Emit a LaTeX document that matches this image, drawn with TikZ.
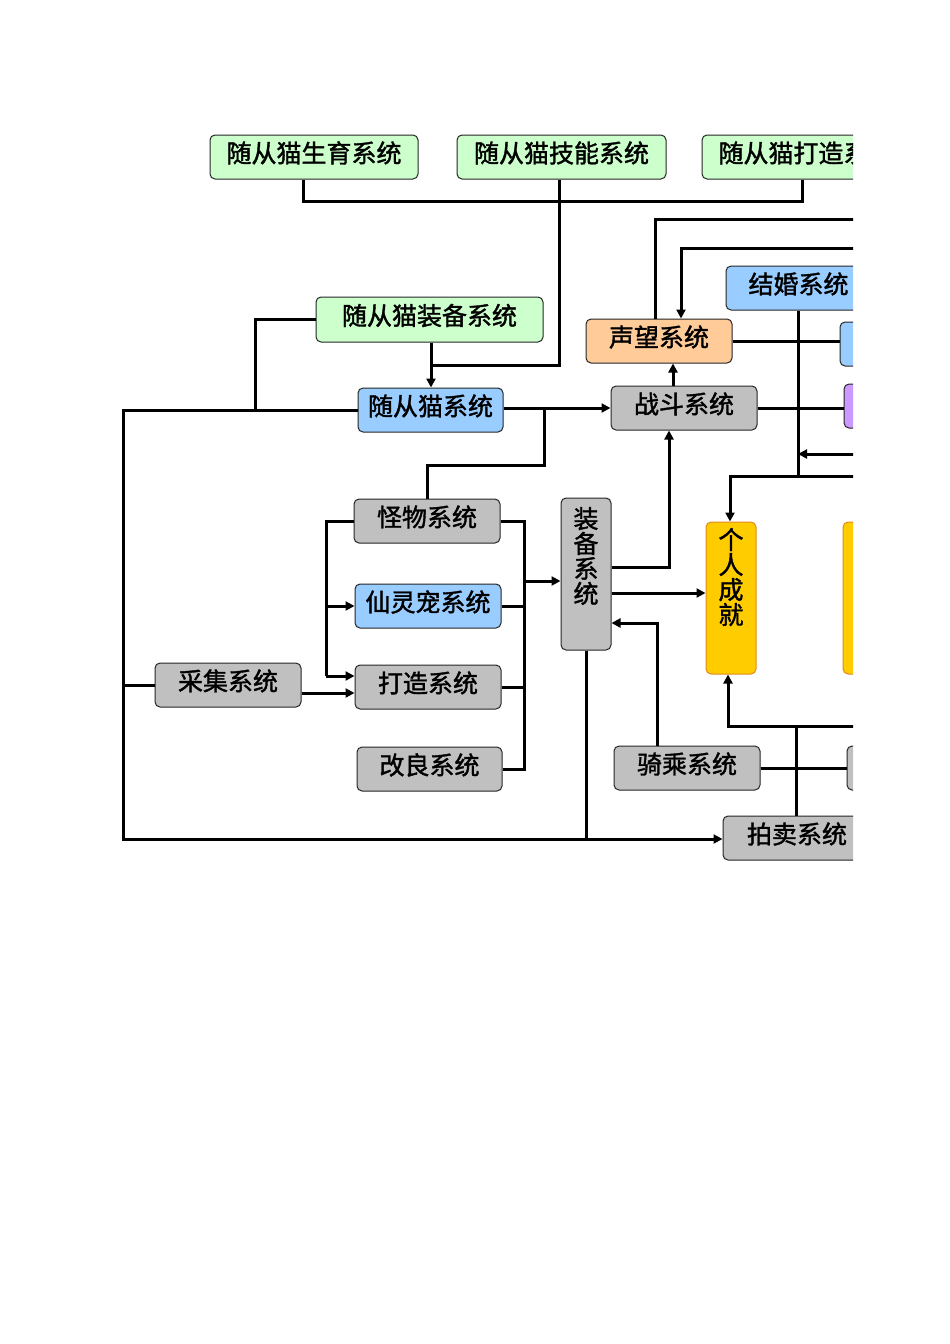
\documentclass[tikz,border=0pt]{standalone}
\usepackage{fontspec}
\newfontfamily\cjk[FakeBold=1.5]{Noto Sans CJK SC}
\usetikzlibrary{arrows.meta}
\definecolor{cgreen}{HTML}{CCFFCC}
\definecolor{cblue}{HTML}{99CCFF}
\definecolor{corange}{HTML}{FFCC99}
\definecolor{cgray}{HTML}{C0C0C0}
\definecolor{cpurple}{HTML}{CC99FF}
\definecolor{cyellow}{HTML}{FFCC00}
\definecolor{cyborder}{HTML}{E08A1E}
\tikzset{
  box/.style={draw=black!85, line width=1pt, rounded corners=5pt, inner sep=0pt,
    minimum height=44pt, minimum width=146pt, text height=19pt, text depth=8pt,
    font=\cjk\fontsize{25}{25}\selectfont},
  gbox/.style={box, fill=cgreen},
  bbox/.style={box, fill=cblue},
  obox/.style={box, fill=corange},
  graybox/.style={box, fill=cgray},
  pbox/.style={box, fill=cpurple},
  vbox/.style={box, minimum width=50pt, minimum height=152pt, text height=, text depth=},
  ybox/.style={vbox, fill=cyellow, draw=cyborder},
  ln/.style={line width=3pt, line join=miter},
  arr/.style={ln, -{Triangle[length=9pt,width=9pt]}}
}
\newcommand{\vtext}[2]{\parbox[t][142pt][t]{27pt}{\vspace*{#1}\centering\fontsize{25}{25}\selectfont #2}}
\begin{document}
\begin{tikzpicture}[x=1pt,y=-1pt]
\useasboundingbox (0,0) rectangle (950,1344);
\fill[white] (0,0) rectangle (950,1344);
\begin{scope}
\clip (0,0) rectangle (853,1344);
% nodes
\node[gbox, minimum width=208pt] (shengyu) at (314,157) {随从猫生育系统};
\node[gbox, minimum width=209pt] (jineng) at (561.5,157) {随从猫技能系统};
\node[gbox, minimum width=208pt] (dazaocat) at (806,157) {随从猫打造系统};
\node[gbox, minimum width=227pt, minimum height=45pt] (zbcat) at (429.5,319.5) {随从猫装备系统};
\node[bbox, minimum width=145pt] (cat) at (430.5,410) {随从猫系统};
\node[obox] (shengwang) at (659,341) {声望系统};
\node[graybox] (zhandou) at (684,408) {战斗系统};
\node[bbox, minimum width=145pt] (jiehun) at (798.5,288) {结婚系统};
\node[bbox] (blueR) at (913,344) {};
\node[pbox] (purple) at (917,406) {};
\node[graybox] (guaiwu) at (427,521) {怪物系统};
\node[bbox] (xianling) at (428,606) {仙灵宠系统};
\node[graybox] (dazao) at (428,687) {打造系统};
\node[graybox, minimum width=145pt] (gailiang) at (429.5,769) {改良系统};
\node[graybox] (caiji) at (228,685) {采集系统};
\node[vbox, fill=cgray] (zhuangbei) at (586,574) {\vtext{4pt}{装\\备\\系\\统}};
\node[ybox] (chengjiu) at (731,598) {\vtext{1pt}{个\\人\\成\\就}};
\node[ybox] (yellowR) at (868,598) {};
\node[graybox] (qicheng) at (687,768) {骑乘系统};
\node[graybox] (grayR) at (920,768) {};
\node[graybox, minimum width=148pt] (paimai) at (797,838) {拍卖系统};
% connectors
\draw[ln] (303,0 |- shengyu.south) -- (303,201) -| (802,0 |- dazaocat.south);
\draw[ln] (559,0 |- jineng.south) |- (431,365);
\draw[arr] (431,0 |- zbcat.south) -- (431,0 |- cat.north);
\draw[ln] (zbcat.west) -| (255,410);
\draw[arr] (cat.west) -| (123,839) -- (paimai.west |- 0,839);
\draw[ln] (caiji.west) -- (123,0 |- caiji.west);
\draw[arr] (cat.east |- zhandou.west) -- (zhandou.west);
\draw[ln] (544,0 |- zhandou.west) -- (544,465) -| (guaiwu.north);
\draw[ln] (guaiwu.west) -| (326,676);
\draw[arr] (326,0 |- xianling.west) -- (xianling.west);
\draw[arr] (326,676) -- (dazao.west |- 0,676);
\draw[arr] (caiji.east |- 0,693) -- (dazao.west |- 0,693);
\draw[ln] (guaiwu.east) -| (524,0 |- gailiang.east) -- (gailiang.east);
\draw[ln] (xianling.east) -- (524,0 |- xianling.east);
\draw[ln] (dazao.east) -- (524,0 |- dazao.east);
\draw[arr] (524,581) -- (zhuangbei.west |- 0,581);
\draw[arr] (zhuangbei.east |- 0,567) -| (669,0 |- zhandou.south);
\draw[arr] (zhuangbei.east |- 0,593) -- (chengjiu.west |- 0,593);
\draw[arr] (657,0 |- qicheng.north) |- (zhuangbei.east |- 0,623);
\draw[ln] (zhuangbei.south) -- (586,839);
\draw[arr] (673,0 |- zhandou.north) -- (673,0 |- shengwang.south);
\draw[ln] (655,0 |- shengwang.north) |- (900,219);
\draw[arr] (900,248) -| (681,0 |- shengwang.north);
\draw[ln] (shengwang.east) -- (blueR.west |- shengwang.east);
\draw[ln] (zhandou.east) -- (purple.west |- zhandou.east);
\draw[ln] (798,0 |- jiehun.south) -- (798,476);
\draw[arr] (900,454) -- (798,454);
\draw[arr] (900,476) -| (730,0 |- chengjiu.north);
\draw[arr] (900,726) -| (728,0 |- chengjiu.south);
\draw[ln] (qicheng.east) -- (grayR.west);
\draw[ln] (796,0 |- paimai.north) -- (796,726);
\end{scope}
\end{tikzpicture}
\end{document}
